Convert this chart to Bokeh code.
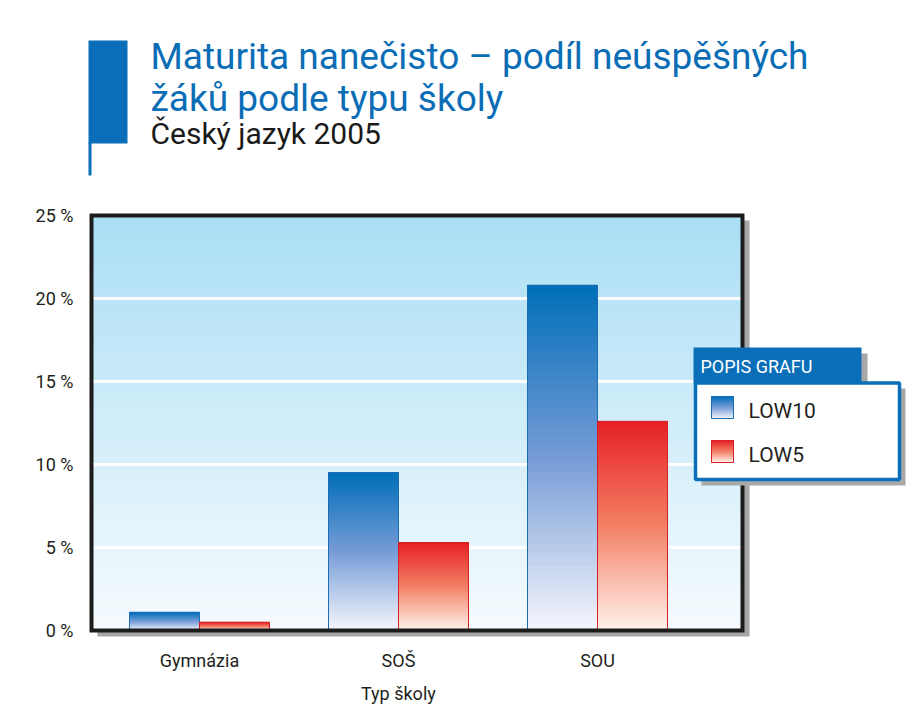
import numpy as np
from bokeh.plotting import figure
from bokeh.models import BoxAnnotation, Label, FixedTicker, Range1d, ColumnDataSource, Title
from bokeh.embed import file_html
from bokeh.resources import INLINE

# ---------------- data ----------------
categories = ["Gymnázia", "SOŠ", "SOU"]
low10 = [1.1, 9.5, 20.8]
low5 = [0.5, 5.3, 12.6]
series_names = ["LOW10", "LOW5"]
y_ticks = [0, 5, 10, 15, 20, 25]
y_tick_labels = ["0 %", "5 %", "10 %", "15 %", "20 %", "25 %"]
title_lines = ["Maturita nanečisto – podíl neúspěšných", "žáků podle typu školy"]
subtitle = "Český jazyk 2005"
x_axis_title = "Typ školy"
legend_title = "POPIS GRAFU"

# ---------------- layout (pixels) ----------------
FONT = "Roboto"
W, H = 906, 717
# plot area box (drawn), in pixels
PL, PR, PT, PB = 91, 742, 215, 630
# bokeh frame (covers title + legend too)
FL, FR, FT, FB = 85, 906, 30, 640
CAT_PX = 199.0
FIRST_CENTER = 199.0
YMAX = 25.0
PX_PER_Y = (PB - PT) / YMAX
BAR_W = 70.0 / CAT_PX


def dx(px):
    return (px - FIRST_CENTER) / CAT_PX


def dy(py):
    return (PB - py) / PX_PER_Y


def grad(stops, f):
    f = min(max(f, 0.0), 1.0)
    for (p0, c0), (p1, c1) in zip(stops[:-1], stops[1:]):
        if p0 <= f <= p1:
            t = (f - p0) / (p1 - p0) if p1 > p0 else 0
            r, g, b = (int(round(a + (bb - a) * t)) for a, bb in zip(c0, c1))
            return "#%02x%02x%02x" % (r, g, b)
    return "#%02x%02x%02x" % stops[-1][1]


BLUE = "#0a6fb8"
BLUE_STOPS = [(0.0, (246, 247, 253)), (0.5, (118, 156, 214)), (1.0, (0, 110, 184))]
RED_STOPS = [(0.0, (254, 243, 236)), (0.5, (243, 128, 100)), (1.0, (230, 32, 38))]
BG_STOPS = [(0.0, (246, 251, 254)), (1.0, (170, 222, 245))]

p = figure(width=W, height=H, output_backend="svg", toolbar_location=None,
           x_range=Range1d(dx(FL), dx(FR)), y_range=Range1d(dy(FB), dy(FT)),
           min_border_left=FL, min_border_right=W - FR,
           min_border_top=FT, min_border_bottom=H - FB)
p.border_fill_color = "white"
p.background_fill_color = "white"
p.outline_line_color = None

x_left, x_right = dx(PL), dx(PR)

# ---------------- plot-area shadow ----------------
p.quad(left=dx(PL + 6), right=dx(PR + 7), bottom=dy(PB + 6), top=dy(PT + 5),
       fill_color="#a6a6a6", line_color=None, level="image")

# ---------------- background gradient ----------------
nb = 84
bg_b = np.linspace(0, YMAX, nb, endpoint=False)
bg_c = [grad(BG_STOPS, (b + YMAX / nb / 2) / YMAX) for b in bg_b]
p.quad(left=x_left, right=x_right, bottom=bg_b, top=YMAX, fill_color=bg_c,
       line_color=None, level="image")

# ---------------- grid lines (at tick values, inside plot area only) ----------------
p.xgrid.visible = False
p.ygrid.visible = False
grid_vals = y_ticks[1:-1]
p.segment(x0=x_left, x1=x_right, y0=grid_vals, y1=grid_vals, line_color="white",
          line_width=3, level="underlay")

# ---------------- axes ----------------
p.yaxis.ticker = FixedTicker(ticks=y_ticks)
p.yaxis.major_label_overrides = dict(zip(y_ticks, y_tick_labels))
p.xaxis.ticker = FixedTicker(ticks=list(range(len(categories))))
p.xaxis.major_label_overrides = {i: c for i, c in enumerate(categories)}
for ax in (p.xaxis, p.yaxis):
    ax.axis_line_color = None
    ax.major_tick_line_color = None
    ax.minor_tick_line_color = None
    ax.major_label_text_font = FONT
    ax.major_label_text_font_size = "18px"
    ax.major_label_text_color = "#231f20"
p.yaxis.major_label_standoff = 6
p.xaxis.major_label_standoff = 3

# x-axis title, centred under the category groups (left-aligned title shifted by offset)
AXIS_TITLE_W = 75.0
axis_title_center = FIRST_CENTER + CAT_PX * (len(categories) - 1) / 2.0
p.add_layout(Title(text=x_axis_title, align="left",
                   offset=axis_title_center - AXIS_TITLE_W / 2.0 - FL,
                   text_font=FONT, text_font_size="18px", text_font_style="normal",
                   text_color="#231f20", standoff=15), "below")

# ---------------- bars with gradients ----------------
NS = 48
for vals, stops, edge, is_left in ((low10, BLUE_STOPS, "#1b6db5", True),
                                   (low5, RED_STOPS, "#d42128", False)):
    L, R, B, T, C = [], [], [], [], []
    lefts = [i - BAR_W if is_left else i for i in range(len(vals))]
    for left, v in zip(lefts, vals):
        for k in range(NS):
            f = k / NS
            L.append(left); R.append(left + BAR_W)
            B.append(f * v); T.append(v)
            C.append(grad(stops, f + 0.5 / NS))
    p.quad(source=ColumnDataSource(dict(left=L, right=R, bottom=B, top=T, color=C)),
           left="left", right="right", bottom="bottom", top="top",
           fill_color="color", line_color=None)
    p.quad(left=lefts, right=[l + BAR_W for l in lefts], bottom=0, top=vals,
           fill_color=None, line_color=edge, line_width=1)

# ---------------- plot-area border ----------------
p.quad(left=x_left, right=x_right, bottom=0, top=YMAX, fill_color=None,
       line_color="#1c1c1c", line_width=4, line_join="miter")


def text_at(x_px, baseline_px, txt, size, color):
    p.add_layout(Label(x=dx(x_px), y=dy(baseline_px - 0.33 * size), text=txt, text_font=FONT,
                       text_font_size="%dpx" % size, text_color=color,
                       text_baseline="middle", text_align="left"))


# ---------------- title block ----------------
p.add_layout(BoxAnnotation(left=dx(88), right=dx(127), top=dy(40), bottom=dy(143),
                           fill_color=BLUE, fill_alpha=1, line_color=None))
p.add_layout(BoxAnnotation(left=dx(88), right=dx(91), top=dy(142), bottom=dy(175),
                           fill_color=BLUE, fill_alpha=1, line_color=None))
for txt, base in zip(title_lines, (68, 110)):
    text_at(150, base, txt, 37, "#0a6db6")
text_at(150, 143, subtitle, 30, "#1a1a1a")

# ---------------- legend ----------------
p.add_layout(BoxAnnotation(left=dx(699), right=dx(867), top=dy(353), bottom=dy(388),
                           fill_color="#a8a8a8", fill_alpha=1, line_color=None))
p.add_layout(BoxAnnotation(left=dx(701), right=dx(905), top=dy(388), bottom=dy(485),
                           fill_color="#a8a8a8", fill_alpha=1, line_color=None))
p.add_layout(BoxAnnotation(left=dx(693), right=dx(861), top=dy(347), bottom=dy(383),
                           fill_color=BLUE, fill_alpha=1, line_color=None))
p.add_layout(BoxAnnotation(left=dx(695), right=dx(899), top=dy(382.5), bottom=dy(479),
                           fill_color="white", fill_alpha=1, line_color=BLUE, line_alpha=1,
                           line_width=3.5))
text_at(700, 372, legend_title, 18, "white")
NSW = 12
for name, stops, edge, top_px in ((series_names[0], BLUE_STOPS, "#1b6db5", 396),
                                  (series_names[1], RED_STOPS, "#d42128", 440)):
    h = 22.0
    for k in range(NSW):
        f = k / NSW
        p.add_layout(BoxAnnotation(left=dx(711), right=dx(733), top=dy(top_px),
                                   bottom=dy(top_px + h - f * h),
                                   fill_color=grad(stops, f + 0.5 / NSW), fill_alpha=1, line_color=None))
    p.add_layout(BoxAnnotation(left=dx(711), right=dx(733), top=dy(top_px), bottom=dy(top_px + h),
                               fill_alpha=0, line_color=edge, line_alpha=1, line_width=1))
    text_at(748, top_px + 21, name, 21, "#231f20")

open("out.html", "w").write(file_html(p, INLINE))
